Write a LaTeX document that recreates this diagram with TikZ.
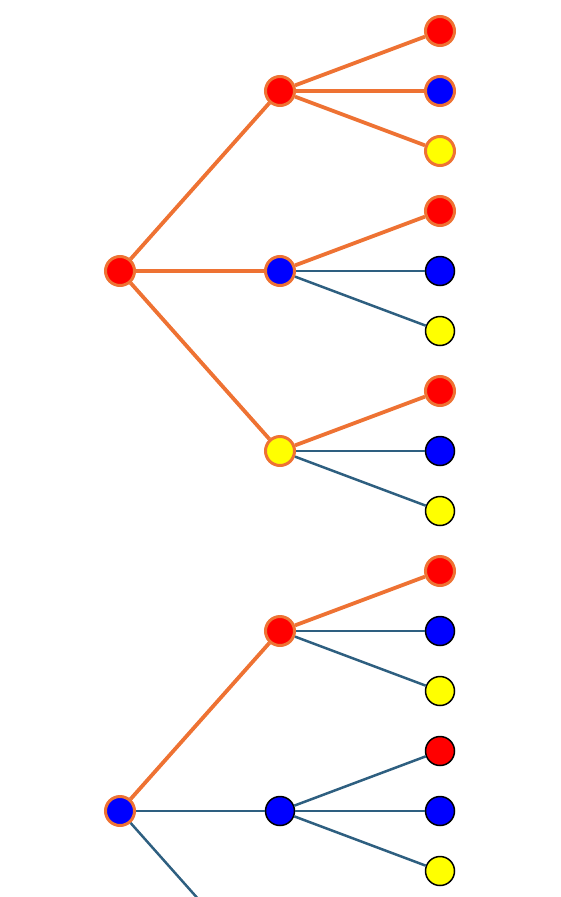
\documentclass[tikz,border=0pt]{standalone}
\usetikzlibrary{positioning}
\definecolor{path}{HTML}{EE7233}
\definecolor{rest}{HTML}{2E5F80}
\definecolor{cred}{HTML}{FF0000}
\definecolor{cblue}{HTML}{0000FF}
\definecolor{cyel}{HTML}{FFFF00}
\tikzset{
  dot/.style={circle, inner sep=0pt, minimum size=29pt},
  hot/.style={dot, draw=path, line width=3pt},
  cold/.style={dot, draw=black, line width=1.5pt},
  hl/.style={draw=path, line width=3.8pt},
  ll/.style={draw=rest, line width=2.5pt},
}

\begin{document}
\begin{tikzpicture}[x=1pt, y=-1pt]
  \useasboundingbox (0,0) rectangle (560,897);
  \clip (0,0) rectangle (560,897);
  % first tree
  \node[hot, fill=cred] (a0) at (120,271) {};
  \node[hot, fill=cred] (a1) at (280,91) {};
  \node[hot, fill=cblue] (a2) at (280,271) {};
  \node[hot, fill=cyel] (a3) at (280,451) {};
  \node[hot, fill=cred] (a11) at (440,31) {};
  \node[hot, fill=cblue] (a12) at (440,91) {};
  \node[hot, fill=cyel] (a13) at (440,151) {};
  \node[hot, fill=cred] (a21) at (440,211) {};
  \node[cold, fill=cblue] (a22) at (440,271) {};
  \node[cold, fill=cyel] (a23) at (440,331) {};
  \node[hot, fill=cred] (a31) at (440,391) {};
  \node[cold, fill=cblue] (a32) at (440,451) {};
  \node[cold, fill=cyel] (a33) at (440,511) {};
  % second tree
  \node[hot, fill=cblue] (b0) at (120,811) {};
  \node[hot, fill=cred] (b1) at (280,631) {};
  \node[cold, fill=cblue] (b2) at (280,811) {};
  \coordinate (b3) at (280,991);
  \node[hot, fill=cred] (b11) at (440,571) {};
  \node[cold, fill=cblue] (b12) at (440,631) {};
  \node[cold, fill=cyel] (b13) at (440,691) {};
  \node[cold, fill=cred] (b21) at (440,751) {};
  \node[cold, fill=cblue] (b22) at (440,811) {};
  \node[cold, fill=cyel] (b23) at (440,871) {};
  % edges
  \draw[hl] (a0) -- (a1);
  \draw[hl] (a0) -- (a2);
  \draw[hl] (a0) -- (a3);
  \draw[hl] (a1) -- (a11);
  \draw[hl] (a1) -- (a12);
  \draw[hl] (a1) -- (a13);
  \draw[hl] (a2) -- (a21);
  \draw[ll] (a2) -- (a22);
  \draw[ll] (a2) -- (a23);
  \draw[hl] (a3) -- (a31);
  \draw[ll] (a3) -- (a32);
  \draw[ll] (a3) -- (a33);
  \draw[hl] (b0) -- (b1);
  \draw[ll] (b0) -- (b2);
  \draw[ll] (b0) -- (b3);
  \draw[hl] (b1) -- (b11);
  \draw[ll] (b1) -- (b12);
  \draw[ll] (b1) -- (b13);
  \draw[ll] (b2) -- (b21);
  \draw[ll] (b2) -- (b22);
  \draw[ll] (b2) -- (b23);
\end{tikzpicture}
\end{document}
